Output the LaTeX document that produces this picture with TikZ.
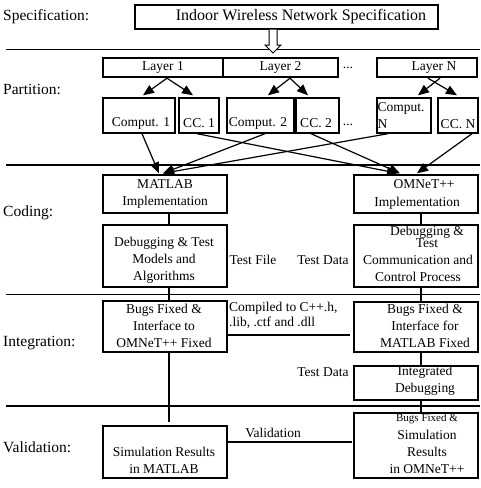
\documentclass[tikz,border=0pt]{standalone}
\usepackage{fontspec}
\setmainfont{Liberation Serif}
\usetikzlibrary{arrows.meta,calc}
\begin{document}
\begin{tikzpicture}[x=1pt,y=-1pt,
 box/.style={draw,line width=1.4pt,inner sep=0pt},
 txt/.style={inner sep=0pt,align=center,font=\fontsize{13.5}{17}\selectfont},
 ltxt/.style={inner sep=0pt,anchor=west,align=left,font=\fontsize{13.5}{15}\selectfont},
 lbl/.style={inner sep=0pt,anchor=west,font=\fontsize{15.5}{18}\selectfont},
 div/.style={line width=1.1pt},
 conn/.style={line width=1.2pt},
 arr/.style={line width=1.2pt,-{Triangle[length=11pt,width=9pt]}},
]
\useasboundingbox (0,0) rectangle (480,488);
% stage labels
\node[lbl] (lSpec) at (3,17) {Specification:};
\node[lbl] (lPart) at (3,89) {Partition:};
\node[lbl] (lCode) at (3,213) {Coding:};
\node[lbl] (lInt) at (3,343) {Integration:};
\node[lbl] (lVal) at (3,447) {Validation:};
% dividers
\draw[div] (6,49.5) -- (480,49.5);
\draw[div] (6,165) -- (480,165);
\draw[div] (6,294.5) -- (480,294.5);
\draw[div] (6,406) -- (480,406);
% specification
\node[box,minimum width=303pt,minimum height=24pt] (spec) at (286.5,17) {};
\node[inner sep=0pt,font=\fontsize{16}{18}\selectfont] (specT) at (301,17) {Indoor Wireless Network Specification};
\draw[line width=1pt,fill=white] (269,29.5) -- (269,45) -- (265,45) -- (273,53) -- (281,45) -- (277,45) -- (277,29.5);
% layers
\node[box,minimum width=120pt,minimum height=19pt] (L1) at (163,67.5) {};
\node[box,minimum width=115pt,minimum height=19pt] (L2) at (280.5,67.5) {};
\node[box,minimum width=100pt,minimum height=19pt] (LN) at (427,67.5) {};
\node[txt] (L1t) at (163,67.5) {Layer 1};
\node[txt] (L2t) at (280.5,67.5) {Layer 2};
\node[txt] (LNt) at (434,67.5) {Layer N};
\node[txt] (dotsA) at (348,68) {...};
% computation / CC boxes
\node[box,minimum width=72pt,minimum height=35pt] (C1) at (139,115.5) {};
\node[box,minimum width=40pt,minimum height=35pt] (CC1) at (199,115.5) {};
\node[box,minimum width=67pt,minimum height=35pt] (C2) at (260.5,115.5) {};
\node[box,minimum width=43pt,minimum height=35pt] (CC2) at (317.5,115.5) {};
\node[box,minimum width=54pt,minimum height=35pt] (CN) at (404,115.5) {};
\node[box,minimum width=40pt,minimum height=35pt] (CCN) at (458,115.5) {};
\node[txt] (C1t) at (141,123) {Comput. 1};
\node[txt] (CC1t) at (199,123) {CC. 1};
\node[txt] (C2t) at (258,123) {Comput. 2};
\node[txt] (CC2t) at (316,123) {CC. 2};
\node[txt] (dotsB) at (348,125) {...};
\node[ltxt] (CNt1) at (377.5,108) {Comput.};
\node[ltxt] (CNt2) at (377.5,124) {N};
\node[txt] (CCNt) at (458,124) {CC. N};
% layer arrows
\draw[arr] ($(L1.south)+(4,0.5)$) -- ($(C1.north)+(4,-2)$);
\draw[arr] ($(L1.south)+(4,0.5)$) -- ($(CC1.north)+(-6,-2)$);
\draw[arr] ($(L2.south)+(9.5,0.5)$) -- ($(C2.north)+(7.5,-2)$);
\draw[arr] ($(L2.south)+(9.5,0.5)$) -- ($(CC2.north)+(-9.5,-2)$);
\draw[arr] ($(LN.south)+(13,0.5)$) -- ($(CN.north)+(14,-2)$);
\draw[arr] ($(LN.south)+(1,0.5)$) -- ($(CCN.north)+(-1,-2)$);
% coding
\node[box,minimum width=124pt,minimum height=38pt] (matlab) at (165,194) {};
\node[box,minimum width=124pt,minimum height=38pt] (omnet) at (416,194) {};
\node[txt] (matT) at (165,194) {MATLAB\\Implementation};
\node[txt] (omT1) at (424,184) {OMNeT++};
\node[txt] (omT2) at (417,203) {Implementation};
% partition to coding arrows
\draw[arr] ($(C1.south)+(3,0)$) -- ($(matlab.north)+(-6,-1)$);
\draw[arr] ($(C2.south)+(4.5,0)$) -- ($(matlab.north)+(-2,-1)$);
\draw[arr] ($(CN.south)+(-16,0)$) -- ($(matlab.north)+(-2,-1)$);
\draw[arr] ($(CC1.south)+(-2,0)$) -- ($(omnet.north)+(-18,-1)$);
\draw[arr] ($(CC2.south)+(-6.5,0)$) -- ($(omnet.north)+(-16,-1)$);
\draw[arr] ($(CCN.south)+(14,0)$) -- ($(omnet.north)+(1,-1)$);
\node[box,minimum width=124pt,minimum height=62pt] (dbgL) at (165,256) {};
\node[box,minimum width=124pt,minimum height=62pt] (dbgR) at (416,256) {};
\node[txt] (dbgLt) at (164,260) {Debugging \& Test\\Models and\\Algorithms};
\node[txt] (dbgRt1) at (427,232) {Debugging \&};
\node[txt] (dbgRt2) at (427,243) {Test};
\node[txt] (dbgRt3) at (418,268.5) {Communication and\\Control Process};
\node[txt] (tfile) at (253,260) {Test File};
\node[txt] (tdata1) at (323,260) {Test Data};
\draw[conn] ($(matlab.south)+(4,0)$) -- ($(dbgL.north)+(4,0)$);
\draw[conn] ($(omnet.south)+(5,0)$) -- ($(dbgR.north)+(5,0)$);
% integration
\node[box,minimum width=124pt,minimum height=51pt] (bugL) at (165,326.5) {};
\node[box,minimum width=124pt,minimum height=50pt] (bugR) at (416,327) {};
\node[txt] (bugLt) at (164,325.5) {Bugs Fixed \&\\Interface to\\OMNeT++ Fixed};
\node[txt] (bugRt) at (425,326) {Bugs Fixed \&\\Interface for\\MATLAB Fixed};
\node[ltxt] (comp) at (229,315.5) {Compiled to C++.h,\\.lib, .ctf and .dll};
\coordinate (cEnd) at (350,335);
\draw[conn] (bugL.east |- cEnd) -- (cEnd);
\draw[conn] ($(dbgL.south)+(4,0)$) -- ($(bugL.north)+(4,0)$);
\draw[conn] ($(dbgR.south)+(5,0)$) -- ($(bugR.north)+(5,0)$);
\node[box,minimum width=124pt,minimum height=34pt] (integ) at (416,383) {};
\node[txt] (integT) at (425,381) {Integrated\\Debugging};
\node[txt] (tdata2) at (323,372) {Test Data};
\draw[conn] ($(bugR.south)+(5,0)$) -- ($(integ.north)+(5,0)$);
% validation
\node[box,minimum width=124pt,minimum height=52pt] (simL) at (165,452) {};
\node[box,minimum width=124pt,minimum height=65pt] (simR) at (416,445.5) {};
\node[txt] (simLt) at (164,460) {Simulation Results\\in MATLAB};
\node[txt,font=\fontsize{11}{12}\selectfont] (simRt1) at (427,419) {Bugs Fixed \&};
\node[txt] (simRt2) at (427,452) {Simulation\\Results\\in OMNeT++};
\coordinate (lEnd) at (169,422);
\draw[conn] ($(bugL.south)+(4,0)$) -- (lEnd);
\draw[conn] ($(integ.south)+(5,0)$) -- ($(simR.north)+(5,0)$);
\node[txt] (valT) at (273,433) {Validation};
\coordinate (vEnd) at (352,442);
\draw[conn] (simL.east |- vEnd) -- (vEnd);
\end{tikzpicture}
\end{document}
